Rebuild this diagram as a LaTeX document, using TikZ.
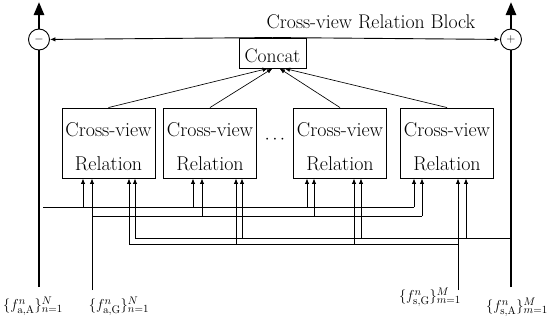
\documentclass[tikz,border=0pt]{standalone}
\usetikzlibrary{arrows.meta,calc}
\begin{document}
\begin{tikzpicture}[x=1pt,y=-1pt,
  thinl/.style={line width=0.9pt},
  hair/.style={line width=0.65pt,-{Latex[length=5.5pt,width=4.5pt]}},
  sarr/.style={thinl,-{Latex[length=5.5pt,width=4.5pt]}},
  thickl/.style={line width=2.6pt},
  bigarr/.style={thickl,-{Triangle[length=13pt,width=10pt]}},
  cvbox/.style={draw,thinl,minimum width=93pt,minimum height=70pt,inner sep=0pt,align=center,font=\fontsize{20}{34}\selectfont},
  catbox/.style={draw,thinl,minimum width=67pt,minimum height=30pt,inner sep=0pt,font=\fontsize{19.5}{22}\selectfont},
  opcirc/.style={draw,thinl,circle,minimum size=21pt,inner sep=0pt,font=\fontsize{13}{14}\selectfont},
  lbl/.style={inner sep=0pt,font=\fontsize{15.5}{18}\selectfont}]
\useasboundingbox (0,0) rectangle (547,324);

% title
\node[font=\fontsize{19.8}{22}\selectfont] (title) at (371,22) {Cross-view Relation Block};

% circles and concat
\node[opcirc] (minus) at (39,39.5) {$-$};
\node[opcirc] (plus) at (511,39.5) {$+$};
\node[catbox] (concat) at (272.5,53) {\raisebox{-2.5pt}[\height][\depth]{Concat}};

% relation boxes
\node[cvbox] (b1) at (108.5,143) {\raisebox{-4pt}[\height][\depth]{\begin{tabular}{@{}c@{}}Cross-view\\Relation\end{tabular}}};
\node[cvbox] (b2) at (210,143) {\raisebox{-4pt}[\height][\depth]{\begin{tabular}{@{}c@{}}Cross-view\\Relation\end{tabular}}};
\node[cvbox] (b3) at (340,143) {\raisebox{-4pt}[\height][\depth]{\begin{tabular}{@{}c@{}}Cross-view\\Relation\end{tabular}}};
\node[cvbox] (b4) at (447,143) {\raisebox{-4pt}[\height][\depth]{\begin{tabular}{@{}c@{}}Cross-view\\Relation\end{tabular}}};
\node[font=\fontsize{18.5}{22}\selectfont] (dots) at (275,140) {$\cdots$};

% box -> concat
\coordinate (c1) at ($(concat.south)+(-4.5,0)$);
\coordinate (c2) at ($(concat.south)+(0,0)$);
\coordinate (c3) at ($(concat.south)+(7,0)$);
\coordinate (c4) at ($(concat.south)+(12,0)$);
\draw[hair] (b1.north) -- (c1);
\draw[hair] (b2.north) -- (c2);
\draw[hair] (b3.north) -- (c3);
\draw[hair] (b4.north) -- (c4);

% concat -> circles
\draw[sarr] (concat.north) -- (minus);
\draw[sarr] (concat.north) -- (plus);

% thick side lines
\coordinate (inA) at (39,287);
\coordinate (topL) at (39,2);
\coordinate (inSA) at (511,287);
\coordinate (topR) at (511,2);
\draw[thickl] (inA) -- (minus);
\draw[bigarr] (minus) -- (topL);
\draw[thickl] (inSA) -- (plus);
\draw[bigarr] (plus) -- (topR);

% bus a,A (y=207)
\coordinate (aL) at (43,207);
\coordinate (a1) at (83,207);
\coordinate (a2) at (193,207);
\coordinate (a3) at (307,207);
\coordinate (a4) at (414,207);
\draw[thinl] (aL) -- (a4);
\draw[sarr] (a1) -- (a1 |- b1.south);
\draw[sarr] (a2) -- (a2 |- b2.south);
\draw[sarr] (a3) -- (a3 |- b3.south);
\draw[sarr] (a4) -- (a4 |- b4.south);

% bus a,G (y=216)
\coordinate (inG) at (92,290);
\coordinate (g1) at (92,216);
\coordinate (g2) at (202,216);
\coordinate (g3) at (314,216);
\coordinate (g4) at (422,216);
\draw[thinl] (g1) -- (g4);
\draw[sarr] (inG) -- (g1 |- b1.south);
\draw[sarr] (g2) -- (g2 |- b2.south);
\draw[sarr] (g3) -- (g3 |- b3.south);
\draw[sarr] (g4) -- (g4 |- b4.south);

% bus s,A (y=238)
\coordinate (sAR) at (511,238);
\coordinate (s1) at (135,238);
\coordinate (s2) at (242,238);
\coordinate (s3) at (361,238);
\coordinate (s4) at (466,238);
\draw[thinl] (sAR) -- (s1);
\draw[sarr] (s1) -- (s1 |- b1.south);
\draw[sarr] (s2) -- (s2 |- b2.south);
\draw[sarr] (s3) -- (s3 |- b3.south);
\draw[sarr] (s4) -- (s4 |- b4.south);

% bus s,G (y=244)
\coordinate (inSG) at (458,290);
\coordinate (t1) at (129,244);
\coordinate (t2) at (236,244);
\coordinate (t3) at (354,244);
\coordinate (t4) at (458,244);
\draw[thinl] (t1) -- (t4);
\draw[sarr] (t1) -- (t1 |- b1.south);
\draw[sarr] (t2) -- (t2 |- b2.south);
\draw[sarr] (t3) -- (t3 |- b3.south);
\draw[sarr] (inSG) -- (t4 |- b4.south);

% labels
\node[lbl] (lA) at (33,306) {$\{f^n_{\mathrm{a,A}}\}^N_{n=1}$};
\node[lbl] (lG) at (119,306) {$\{f^n_{\mathrm{a,G}}\}^N_{n=1}$};
\node[lbl] (lsG) at (430,297) {$\{f^n_{\mathrm{s,G}}\}^M_{m=1}$};
\node[lbl] (lsA) at (517,307) {$\{f^n_{\mathrm{s,A}}\}^M_{m=1}$};
\end{tikzpicture}
\end{document}
